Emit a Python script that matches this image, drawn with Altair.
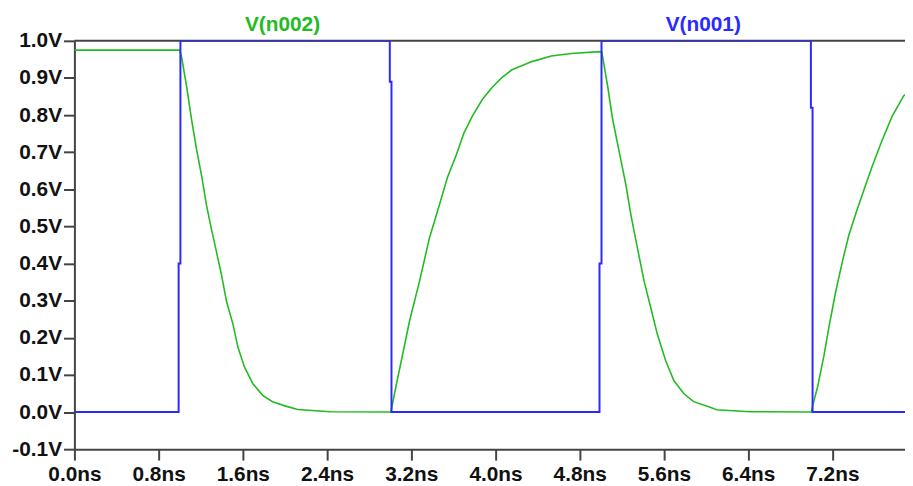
import altair as alt
import pandas as pd

# V(n001) – input pulse (blue)
t_n001 = [0.0, 0.99, 0.99, 1.007, 1.007, 2.996, 2.996, 3.012, 3.012, 4.988, 4.988,
          5.007, 5.007, 6.996, 6.996, 7.012, 7.012, 7.89]
v_n001 = [0.0, 0.0, 0.40, 0.40, 1.0, 1.0, 0.89, 0.89, 0.0, 0.0, 0.40,
          0.40, 1.0, 1.0, 0.82, 0.82, 0.0, 0.0]

# V(n002) – output (green)
t_n002 = [0.0, 1.0, 1.01, 1.02, 1.066, 1.113, 1.16, 1.208, 1.255, 1.30, 1.349, 1.397,
          1.444, 1.506, 1.553, 1.616, 1.694, 1.788, 1.882, 2.008, 2.12, 2.43, 3.0,
          3.01, 3.06, 3.106, 3.184, 3.278, 3.372, 3.466, 3.545, 3.624, 3.702, 3.78,
          3.875, 3.969, 4.06, 4.157, 4.345, 4.53, 4.72, 4.99,
          5.01, 5.02, 5.066, 5.113, 5.176, 5.24, 5.287, 5.349, 5.412, 5.475, 5.537,
          5.616, 5.694, 5.788, 5.882, 6.04, 6.10, 6.42, 7.0,
          7.01, 7.06, 7.12, 7.167, 7.23, 7.294, 7.357, 7.435, 7.498, 7.576, 7.67,
          7.765, 7.875, 7.89]
v_n002 = [0.975, 0.975, 0.965, 0.953, 0.877, 0.788, 0.708, 0.637, 0.557, 0.495, 0.432, 0.37,
          0.299, 0.237, 0.175, 0.121, 0.077, 0.045, 0.028, 0.016, 0.007, 0.001, 0.0,
          0.005, 0.077, 0.139, 0.246, 0.352, 0.468, 0.557, 0.633, 0.69, 0.753, 0.797,
          0.842, 0.875, 0.901, 0.922, 0.944, 0.959, 0.966, 0.971,
          0.97, 0.953, 0.877, 0.788, 0.70, 0.61, 0.53, 0.441, 0.352, 0.281, 0.21,
          0.139, 0.085, 0.05, 0.028, 0.013, 0.006, 0.001, 0.0,
          0.014, 0.068, 0.152, 0.228, 0.322, 0.404, 0.477, 0.545, 0.597, 0.66, 0.73,
          0.795, 0.851, 0.855]

y_ticks = [-0.1, 0.0, 0.1, 0.2, 0.3, 0.4, 0.5, 0.6, 0.7, 0.8, 0.9, 1.0]
x_ticks = [0.0, 0.8, 1.6, 2.4, 3.2, 4.0, 4.8, 5.6, 6.4, 7.2]
top_level = [1.0]
trace_names = ["V(n002)", "V(n001)"]
trace_colors = ["#22bb22", "#2a2aff"]

X_MAX = 7.89
FONT = "Liberation Sans"
AX = "#444444"

df_b = pd.DataFrame({"t": t_n001, "v": v_n001, "i": range(len(t_n001))})
df_g = pd.DataFrame({"t": t_n002, "v": v_n002, "i": range(len(t_n002))})
df_top = pd.DataFrame({"v": top_level})

xs = alt.Scale(domain=[0, X_MAX], nice=False, zero=False)
ys = alt.Scale(domain=[-0.1, 1.0], nice=False, zero=False)

x_axis = alt.Axis(values=x_ticks, title=None,
                  labelExpr="format(datum.value, '.1f') + 'ns'",
                  labelFlush=False, labelOverlap=False, labelPadding=4)
y_axis = alt.Axis(values=y_ticks, title=None,
                  labelExpr="(datum.value < 0 ? '-' : '') + format(abs(datum.value), '.1f') + 'V'",
                  labelFlush=False, labelOverlap=False, labelPadding=2)

green = alt.Chart(df_g).mark_line(color=trace_colors[0], strokeWidth=1.6, clip=True).encode(
    x=alt.X("t:Q", scale=xs, axis=x_axis),
    y=alt.Y("v:Q", scale=ys, axis=y_axis),
    order="i:Q",
)

top = alt.Chart(df_top).mark_rule(color=AX, strokeWidth=2).encode(
    y=alt.Y("v:Q", scale=ys, axis=y_axis),
)

blue = alt.Chart(df_b).mark_line(color=trace_colors[1], strokeWidth=2, clip=True).encode(
    x=alt.X("t:Q", scale=xs, axis=x_axis),
    y=alt.Y("v:Q", scale=ys, axis=y_axis),
    order="i:Q",
)

lab_g = alt.Chart(pd.DataFrame({"name": [trace_names[0]]})).mark_text(
    color=trace_colors[0], font=FONT, fontWeight="bold", fontSize=21,
    align="center", baseline="middle"
).encode(text="name:N", x=alt.value(210), y=alt.value(-16))

lab_b = alt.Chart(pd.DataFrame({"name": [trace_names[1]]})).mark_text(
    color=trace_colors[1], font=FONT, fontWeight="bold", fontSize=21,
    align="center", baseline="middle"
).encode(text="name:N", x=alt.value(634.5), y=alt.value(-16))

chart = alt.layer(green, top, blue, lab_g, lab_b).properties(
    width=838, height=412,
    autosize=alt.AutoSizeParams(type="none"),
    padding={"left": 67, "top": 31, "right": 0, "bottom": 33},
    background="white",
).configure_view(stroke=None).configure_axis(
    domainColor=AX, domainWidth=2, tickColor=AX, tickWidth=2, tickSize=11,
    grid=False, labelFont=FONT, labelFontWeight="bold", labelFontSize=21,
    labelColor="#111111",
)

chart.save("out.html", embed_options={"renderer": "svg", "actions": False})
